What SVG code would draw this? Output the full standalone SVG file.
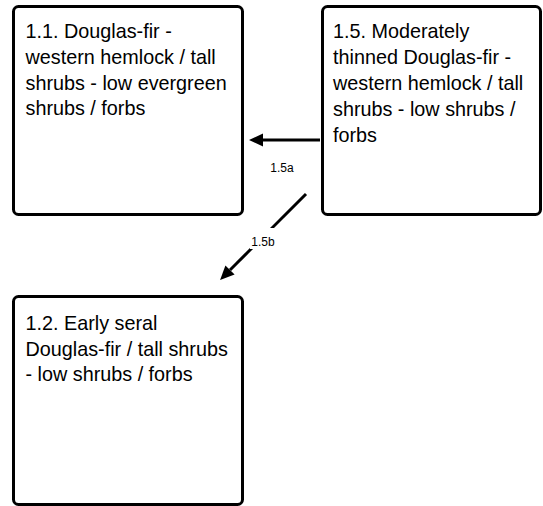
<svg xmlns="http://www.w3.org/2000/svg" width="543" height="506" viewBox="0 0 543 506">
<style>
.box{fill:#fff;stroke:#000;stroke-width:3}
.t{font-family:"Liberation Sans",Arial,sans-serif;font-size:19.8px;fill:#000}
.lbl{font-family:"Liberation Sans",Arial,sans-serif;font-size:12px;fill:#000;text-anchor:middle}
.c{stroke:#000;stroke-width:3;fill:none}
</style>
<defs>
<marker id="ah" markerUnits="userSpaceOnUse" markerWidth="16" markerHeight="14" viewBox="0 -7 16 14" refX="0" refY="0" orient="auto">
<path d="M0,-6.5 L14,0 L0,6.5 z" fill="#000"/>
</marker>
</defs>
<rect width="543" height="506" fill="#fff"/>
<g id="n11">
<rect class="box" x="13.5" y="6.5" width="229" height="208" rx="5"/>
<text class="t" x="25.5" y="38.3">1.1. Douglas-fir -</text>
<text class="t" x="25.5" y="64">western hemlock / tall</text>
<text class="t" x="25.5" y="89.7">shrubs - low evergreen</text>
<text class="t" x="25.5" y="115.4">shrubs / forbs</text>
</g>
<g id="n15">
<rect class="box" x="322.5" y="6.5" width="218" height="208" rx="5"/>
<text class="t" x="333" y="37.5">1.5. Moderately</text>
<text class="t" x="333" y="63.5">thinned Douglas-fir -</text>
<text class="t" x="333" y="89.5">western hemlock / tall</text>
<text class="t" x="333" y="115.5">shrubs - low shrubs /</text>
<text class="t" x="333" y="141.5">forbs</text>
</g>
<g id="n12">
<rect class="box" x="13.5" y="296.5" width="229" height="208" rx="5"/>
<text class="t" x="25.5" y="330">1.2. Early seral</text>
<text class="t" x="25.5" y="355.5">Douglas-fir / tall shrubs</text>
<text class="t" x="25.5" y="381">- low shrubs / forbs</text>
</g>
<g id="connectors">
<path class="c" d="M320,140 L263,140" marker-end="url(#ah)"/>
<text class="lbl" x="282" y="172">1.5a</text>
<path class="c" d="M306,194 L230,270" marker-end="url(#ah)"/>
<rect x="250" y="228" width="27" height="21" fill="#fff"/>
<text class="lbl" x="263" y="246">1.5b</text>
</g>
</svg>
